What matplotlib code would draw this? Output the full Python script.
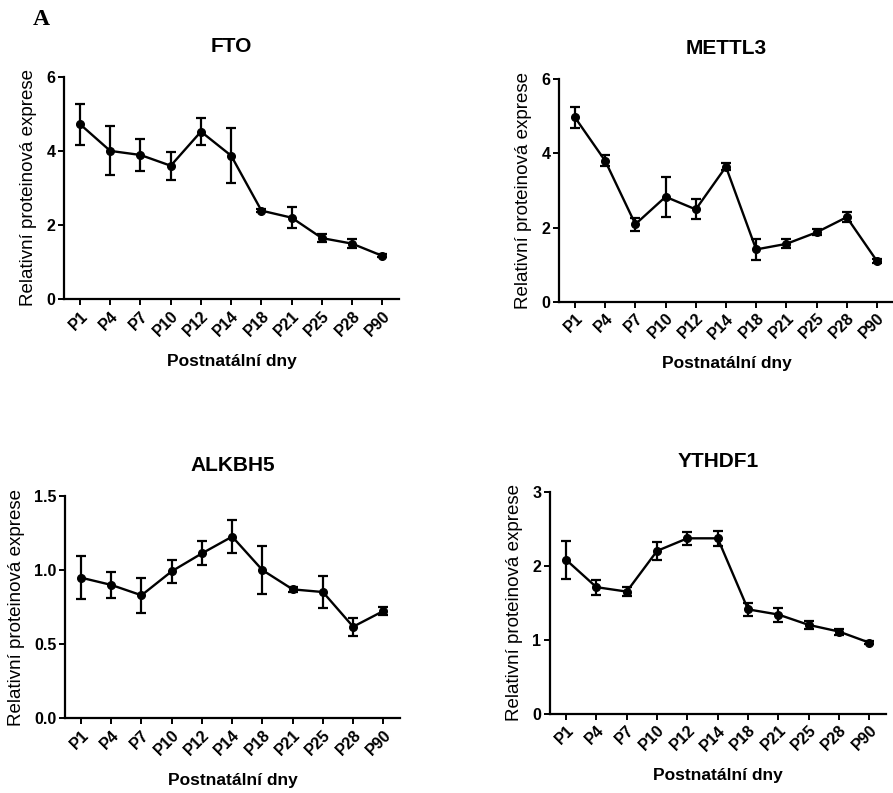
import matplotlib
matplotlib.use("Agg")
import matplotlib.pyplot as plt

days = ["P1", "P4", "P7", "P10", "P12", "P14", "P18", "P21", "P25", "P28", "P90"]

fto_mean = [4.72, 4.00, 3.89, 3.60, 4.52, 3.87, 2.39, 2.20, 1.65, 1.50, 1.17]
fto_err = [0.55, 0.66, 0.42, 0.38, 0.37, 0.74, 0.05, 0.29, 0.10, 0.13, 0.04]

mettl3_mean = [4.97, 3.80, 2.09, 2.83, 2.49, 3.64, 1.41, 1.56, 1.87, 2.28, 1.10]
mettl3_err = [0.29, 0.15, 0.17, 0.54, 0.27, 0.10, 0.28, 0.12, 0.08, 0.14, 0.06]

alkbh5_mean = [0.949, 0.90, 0.83, 0.992, 1.113, 1.226, 1.00, 0.87, 0.852, 0.618, 0.724]
alkbh5_err = [0.147, 0.085, 0.117, 0.077, 0.080, 0.112, 0.160, 0.015, 0.110, 0.062, 0.025]

ythdf1_mean = [2.08, 1.71, 1.65, 2.20, 2.37, 2.37, 1.41, 1.34, 1.20, 1.11, 0.96]
ythdf1_err = [0.26, 0.10, 0.065, 0.12, 0.09, 0.10, 0.09, 0.095, 0.05, 0.04, 0.02]

titles = ["FTO", "METTL3", "ALKBH5", "YTHDF1"]
ylims = [6, 6, 1.5, 3]
yticks = [[0, 2, 4, 6], [0, 2, 4, 6], [0.0, 0.5, 1.0, 1.5], [0, 1, 2, 3]]
ytick_labels = [["0", "2", "4", "6"], ["0", "2", "4", "6"],
                ["0.0", "0.5", "1.0", "1.5"], ["0", "1", "2", "3"]]

W, H = 893, 793
fig = plt.figure(figsize=(W / 100, H / 100), dpi=100)
plt.rcParams['font.family'] = ['Liberation Sans', 'DejaVu Sans']

# axes boxes in pixels: left, top, right, bottom
boxes = [(64.3, 76.7, 399.0, 299.3),
         (559.3, 79.3, 893.5, 301.7),
         (65.3, 496.0, 400.0, 718.3),
         (550.3, 491.7, 886.0, 713.7)]
ylab_off = [-27.6, -27.6, -40.0, -27.0]

series = [(fto_mean, fto_err), (mettl3_mean, mettl3_err),
          (alkbh5_mean, alkbh5_err), (ythdf1_mean, ythdf1_err)]

for i, (l, t, r, b) in enumerate(boxes):
    ax = fig.add_axes([l / W, 1 - b / H, (r - l) / W, (b - t) / H])
    mean, err = series[i]
    x = list(range(len(days)))
    ax.errorbar(x, mean, yerr=err, color="black", lw=1.7, marker="o",
                markersize=5.5, capsize=3.8, elinewidth=1.6, capthick=1.6,
                clip_on=False)
    ax.set_xlim(-0.52, 10.55)
    ax.set_ylim(0, ylims[i])
    ax.set_xticks(x)
    ax.set_xticklabels(days, rotation=45, ha="right", rotation_mode="anchor",
                       fontsize=11.5, fontweight="bold")
    ax.set_yticks(yticks[i])
    ax.set_yticklabels(ytick_labels[i], fontsize=11.5, fontweight="bold")
    for s in ["top", "right"]:
        ax.spines[s].set_visible(False)
    for s in ["left", "bottom"]:
        ax.spines[s].set_linewidth(1.6)
    ax.tick_params(axis="both", direction="out", length=4.5, width=1.4,
                   pad=2)
    ax.set_title(titles[i], fontsize=15, fontweight="bold", pad=18)
    ax.set_xlabel("Postnatální dny", fontsize=12.5, fontweight="bold")
    ax.xaxis.set_label_coords(0.5, -0.245)
    ax.set_ylabel("Relativní proteinová exprese", fontsize=13.5)
    ax.yaxis.set_label_coords(ylab_off[i] / (r - l), 0.5)

fig.text(33 / W, 1 - 25 / H, "A", family="Liberation Serif",
         fontweight="bold", fontsize=17, ha="left", va="baseline")

fig.savefig("out.png", dpi=100)
